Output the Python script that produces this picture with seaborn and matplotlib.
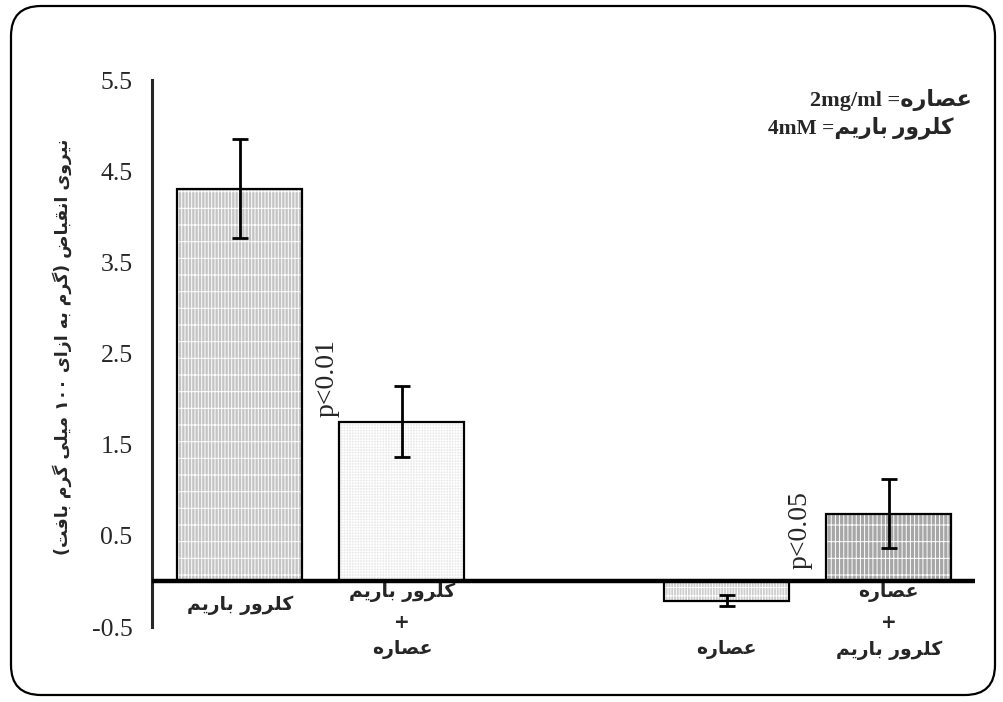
import re
import matplotlib
matplotlib.use("Agg")
import matplotlib.pyplot as plt
import matplotlib.patches as mpatches
import seaborn as sns
import pandas as pd

# data
groups = ["BaCl2", "BaCl2 + extract", "extract", "extract + BaCl2"]
order = ["BaCl2", "BaCl2 + extract", "gap", "extract", "extract + BaCl2"]
means = [4.31, 1.75, -0.21, 0.745]
errors = [0.54, 0.39, 0.06, 0.38]
labels_fa = [["کلرور باریم"], ["کلرور باریم", "+", "عصاره"], ["عصاره"], ["عصاره", "+", "کلرور باریم"]]
pvals = ["", "p<0.01", "", "p<0.05"]
yticks = [-0.5, 0.5, 1.5, 2.5, 3.5, 4.5, 5.5]
ylabel_fa = "نیروی انقباض (گرم به ازای ۱۰۰ میلی گرم بافت)"
note_lines = ["عصاره= 2mg/ml", "کلرور باریم= 4mM"]

face_colors = ["#c4c4c4", "#e9e9e9", "#cdcdcd", "#a6a6a6"]
hatches = ["|||||-", "++++++", "||||||--", "||||-"]

# --- simple persian shaping (no arabic_reshaper available) ---
FORMS = {
    "ا": "\ufe8d\ufe8e", "ر": "\ufead\ufeae", "ز": "\ufeaf\ufeb0", "و": "\ufeed\ufeee",
    "ب": "\ufe8f\ufe90\ufe91\ufe92", "ت": "\ufe95\ufe96\ufe97\ufe98",
    "ص": "\ufeb9\ufeba\ufebb\ufebc", "ض": "\ufebd\ufebe\ufebf\ufec0",
    "ع": "\ufec9\ufeca\ufecb\ufecc", "ف": "\ufed1\ufed2\ufed3\ufed4",
    "ق": "\ufed5\ufed6\ufed7\ufed8", "ل": "\ufedd\ufede\ufedf\ufee0",
    "م": "\ufee1\ufee2\ufee3\ufee4", "ن": "\ufee5\ufee6\ufee7\ufee8",
    "ه": "\ufee9\ufeea\ufeeb\ufeec", "ی": "\ufbfc\ufbfd\ufbfe\ufbff",
    "ک": "\ufb8e\ufb8f\ufb90\ufb91", "گ": "\ufb92\ufb93\ufb94\ufb95",
}


def shape(text):
    out = []
    for i, ch in enumerate(text):
        f = FORMS.get(ch)
        if f is None:
            out.append(ch)
            continue
        prev = text[i - 1] if i > 0 else ""
        nxt = text[i + 1] if i + 1 < len(text) else ""
        jp = prev in FORMS and len(FORMS[prev]) == 4
        jn = len(f) == 4 and nxt in FORMS
        if jp and jn:
            out.append(f[3])
        elif jp:
            out.append(f[1])
        elif jn:
            out.append(f[2])
        else:
            out.append(f[0])
    return "".join(out)


def fa(text):
    s = shape(text)[::-1]
    s = s.translate(str.maketrans("()", ")("))
    # keep latin / digit runs left-to-right
    return re.sub(r"[0-9\u06f0-\u06f9A-Za-z/.<]+", lambda m: m.group(0)[::-1], s)


sns.set_style("white")
plt.rcParams["font.family"] = ["Liberation Serif", "DejaVu Sans"]
plt.rcParams["hatch.linewidth"] = 0.7

df = pd.DataFrame({"group": groups, "value": means})

fig = plt.figure(figsize=(10.04, 7.02), dpi=100)
ax = fig.add_axes([0.1514, 0.1068, 0.8196, 0.7792])

sns.barplot(data=df, x="group", y="value", order=order, color="#cccccc",
            width=0.77, errorbar=None, ax=ax)

bars = sorted([p for p in ax.patches if p.get_height() == p.get_height()], key=lambda p: p.get_x())
bars = [b for b in bars if b.get_height() != 0]
for bar, fc, h in zip(bars, face_colors, hatches):
    bar.set_facecolor(fc)
    bar.set_edgecolor("white")
    bar.set_linewidth(0)
    bar.set_hatch(h)
    ax.add_patch(mpatches.Rectangle((bar.get_x(), bar.get_y()), bar.get_width(), bar.get_height(),
                                    fill=False, ec="black", lw=1.6, zorder=3))

xpos = [order.index(g) for g in groups]
ax.errorbar(xpos, means, yerr=errors, fmt="none", ecolor="black", elinewidth=2,
            capsize=5.5, capthick=2, zorder=4)

ax.axhline(0, color="black", lw=3.2, zorder=5)

ax.set_ylim(-0.5, 5.5)
ax.set_xlim(-0.54, 4.53)
ax.set_yticks(yticks)
ax.set_yticklabels([f"{t:g}" for t in yticks], fontsize=18.5)
ax.set_xticks([])
ax.tick_params(axis="y", direction="out", length=5, width=2.2, pad=9)
for s in ["top", "right", "bottom"]:
    ax.spines[s].set_visible(False)
ax.spines["left"].set_linewidth(2.2)
ax.set_xlabel("")
ax.set_ylabel("")

# category labels under the bars
label_y = [[-0.26], [-0.12, -0.45, -0.75], [-0.75], [-0.12, -0.45, -0.75]]
for x, lines, ys in zip(xpos, labels_fa, label_y):
    for line, y in zip(lines, ys):
        ax.text(x, y, fa(line), ha="center", va="center", fontsize=13.5,
                fontweight="bold", family=["DejaVu Sans"], clip_on=False)

# p values written vertically left of their bars
p_dx = [0, -0.46, 0, -0.545]
p_y = [0, 1.8, 0, 0.14]
for x, p, dx, y in zip(xpos, pvals, p_dx, p_y):
    if p:
        ax.text(x + dx, y, p, rotation=90, ha="center", va="bottom", fontsize=20)

fig.text(0.062, 0.506, fa(ylabel_fa), rotation=90, ha="center", va="center",
         fontsize=12.5, fontweight="bold", family=["DejaVu Sans"])

fig.text(0.968, 0.858, fa(note_lines[0]), ha="right", va="center", fontsize=16, fontweight="bold")
fig.text(0.950, 0.818, fa(note_lines[1]), ha="right", va="center", fontsize=15.5, fontweight="bold")

border = mpatches.FancyBboxPatch((0.11, 0.07), 9.84, 6.89, boxstyle="round,pad=0,rounding_size=0.3",
                                 transform=fig.dpi_scale_trans, fill=False, ec="black", lw=1.6)
fig.patches.append(border)

fig.savefig("out.png", dpi=100)
